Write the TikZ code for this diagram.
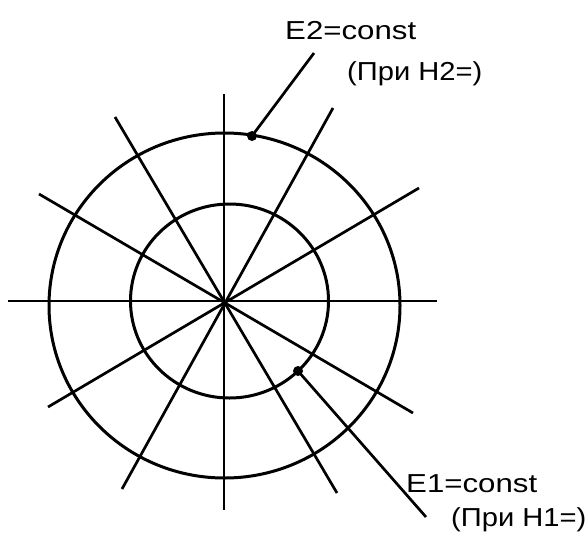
\documentclass[tikz,border=0pt]{standalone}
\usepackage{fontspec}
\setmainfont{Liberation Sans}
\begin{document}
\begin{tikzpicture}[x=1pt,y=-1pt]
  \tikzstyle{axis}=[line width=1.5pt]
  \tikzstyle{ray}=[line width=2.7pt]
  \tikzstyle{ring}=[line width=3pt]
  \tikzstyle{leader}=[line width=2.7pt]
  \tikzstyle{lbl}=[anchor=base west, inner sep=0pt, xscale=1.2, font=\fontsize{26}{30}\selectfont]
  \tikzstyle{sublbl}=[lbl, xscale=1.12/1.2]

  \useasboundingbox (0,0) rectangle (588,533);

  \draw[axis] (8,301) -- (437,301);
  \draw[axis] (224,94) -- (224,510);

  \draw[ray] (115,117) -- (337,493);
  \draw[ray] (39,194) -- (413,413);
  \draw[ray] (333,108) -- (122,489);
  \draw[ray] (419,188) -- (48,407);

  \draw[ring] (224.5,305.5) ellipse [x radius=175.5, y radius=172.5];
  \draw[ring] (229.5,301) ellipse [x radius=99, y radius=97];

  \node[lbl] (e2) at (285,39) {E2=const};
  \node[sublbl] (h2) at (347,80) {(При H2=)};
  \node[lbl] (e1) at (406,492) {E1=const};
  \node[sublbl] (h1) at (451,526) {(При H1=)};

  \coordinate (d2) at (252,136);
  \coordinate (t2) at (314,53);
  \coordinate (d1) at (298,371);
  \coordinate (t1) at (426,517);
  \draw[leader] (d2) -- (t2);
  \draw[leader] (d1) -- (t1);
  \fill (d2) circle (5);
  \fill (d1) circle (5);
\end{tikzpicture}
\end{document}
